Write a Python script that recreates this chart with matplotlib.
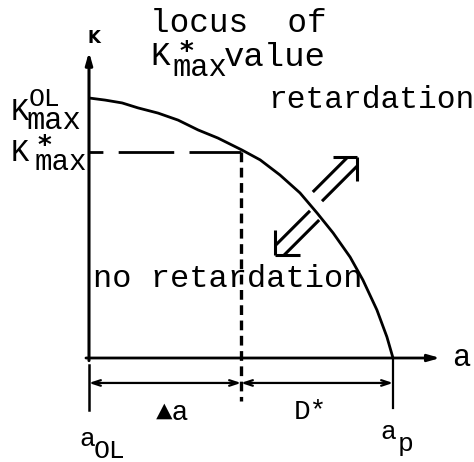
import numpy as np
import matplotlib
matplotlib.use("Agg")
import matplotlib.pyplot as plt

plt.rcParams['lines.scale_dashes'] = False

# crack length a (a_OL = 0, a_p = 1) and K along the locus (K_OL = 1)
a_curve = [0.0, 0.053, 0.109, 0.161, 0.227, 0.293, 0.359, 0.424, 0.503, 0.563,
           0.628, 0.694, 0.750, 0.803, 0.859, 0.901, 0.947, 0.980, 1.0]
K_curve = [1.0, 0.992, 0.981, 0.962, 0.942, 0.915, 0.877, 0.846, 0.800, 0.762,
           0.704, 0.635, 0.558, 0.481, 0.388, 0.300, 0.185, 0.081, 0.0]
a_star = 0.5      # crack length where K = K*max
K_star = 0.792
a_end = 1.0       # a_p

W, H = 474, 462
fig = plt.figure(figsize=(W / 100, H / 100), dpi=100)
ax = fig.add_axes([0, 0, 1, 1])
ax.set_xlim(-89 / 304, (W - 89) / 304)
ax.set_ylim(-(H - 358) / 260, 358 / 260)
ax.axis('off')


def px(x, y):
    # picture pixel -> diagram units
    return (x - 89) / 304, (358 - y) / 260


mono = 'Liberation Mono'
star = dict(family='DejaVu Sans', fontweight='bold', ha='center', va='baseline')

# axes with arrows
ax.annotate('', xy=(0, 1.177), xytext=(0, -0.01),
            arrowprops=dict(arrowstyle='-|>,head_length=0.7,head_width=0.2', lw=2.2, color='k',
                            shrinkA=0, shrinkB=0))
ax.annotate('', xy=(1.155, 0), xytext=(-0.01, 0),
            arrowprops=dict(arrowstyle='-|>,head_length=0.7,head_width=0.2', lw=2.0, color='k',
                            shrinkA=0, shrinkB=0))

# locus of K*max
ax.plot(a_curve, K_curve, color='k', lw=2.0, solid_capstyle='butt')

# K*max level and the corresponding crack length
ax.plot([0, a_star], [K_star, K_star], color='k', lw=2.0,
        linestyle=(30, (40, 11)))
ax.plot([a_star, a_star], [K_star, -0.165], color='k', lw=2.4,
        linestyle=(0, (7, 4)))

# dimension lines for delta a and D*
ax.plot([0, 0], [-0.027, -0.2], color='k', lw=1.8)
ax.plot([a_end, a_end], [0, -0.192], color='k', lw=1.6)
for x0, x1 in [(0, a_star), (a_star, a_end)]:
    ax.annotate('', xy=(x1, -0.096), xytext=(x0, -0.096),
                arrowprops=dict(arrowstyle='<->,head_length=0.6,head_width=0.2', lw=1.6,
                                color='k', shrinkA=0, shrinkB=0))


def hollow_arrow(tip, back, head, half_w, direction):
    # open double-line arrow, drawn in pixel space
    tx, ty = ax.transData.transform(tip)
    d = np.array(direction, float)
    d /= np.hypot(*d)
    n = np.array([-d[1], d[0]])
    pts = []
    # head: horizontal and vertical strokes from the tip
    pts.append([(tx, ty), (tx - np.sign(d[0]) * head, ty)])
    pts.append([(tx, ty), (tx, ty - np.sign(d[1]) * head)])
    for s in (1, -1):
        p0 = np.array([tx, ty]) - back * d + s * half_w * n
        p1 = np.array([tx, ty]) - half_w * d + s * half_w * n
        pts.append([tuple(p0), tuple(p1)])
    inv = ax.transData.inverted()
    for seg in pts:
        xy = inv.transform(seg)
        ax.plot(xy[:, 0], xy[:, 1], color='k', lw=2.2, solid_capstyle='butt')


hollow_arrow(px(357, 157), 56, 24, 6.5, (1, 1))
hollow_arrow(px(275, 255), 56, 25, 6.5, (-1, -1))

# labels
ax.text(*px(94, 38), 'K', fontsize=12, fontweight='bold', family='DejaVu Sans',
        ha='center', va='center')
ax.text(*px(452, 358), 'a', fontsize=22, family=mono, ha='left', va='center')

ax.text(*px(150, 32), 'locus  of', fontsize=23.5, family=mono, ha='left', va='baseline')
ax.text(*px(150, 65), 'K', fontsize=23.5, family=mono, ha='left', va='baseline')
ax.text(*px(186, 60), '*', fontsize=19, **star)
ax.text(*px(172, 76), 'max', fontsize=22, family=mono, ha='left', va='baseline')
ax.text(*px(224, 66), 'value', fontsize=24.5, family=mono, ha='left', va='baseline')

ax.text(*px(268, 108), 'retardation', fontsize=22.5, family=mono, ha='left', va='baseline')
ax.text(*px(93, 287), 'no retardation', fontsize=23, family=mono, ha='left', va='baseline')

# K levels on the vertical axis
ax.text(*px(11, 120), 'K', fontsize=22, family=mono, ha='left', va='baseline')
ax.text(*px(29, 106), 'OL', fontsize=19, family=mono, ha='left', va='baseline')
ax.text(*px(26, 129), 'max', fontsize=22, family=mono, ha='left', va='baseline')
ax.text(*px(11, 161), 'K', fontsize=22, family=mono, ha='left', va='baseline')
ax.text(*px(44, 154), '*', fontsize=19, **star)
ax.text(*px(35, 170), 'max', fontsize=21, family=mono, ha='left', va='baseline')

# crack length labels
ax.text(*px(172, 420), '\u25b2a', fontsize=20, family=[mono, 'DejaVu Sans'],
        ha='center', va='baseline')
ax.text(*px(310, 419), 'D*', fontsize=20, family=mono, ha='center', va='baseline')
ax.text(*px(79, 446), 'a', fontsize=19, family=mono, ha='left', va='baseline')
ax.text(*px(94, 458), 'OL', fontsize=19, family=mono, ha='left', va='baseline')
ax.text(*px(380, 439), 'a', fontsize=19, family=mono, ha='left', va='baseline')
ax.text(*px(398, 451), 'p', fontsize=19, family=mono, ha='left', va='baseline')

fig.savefig('out.png', dpi=100)
